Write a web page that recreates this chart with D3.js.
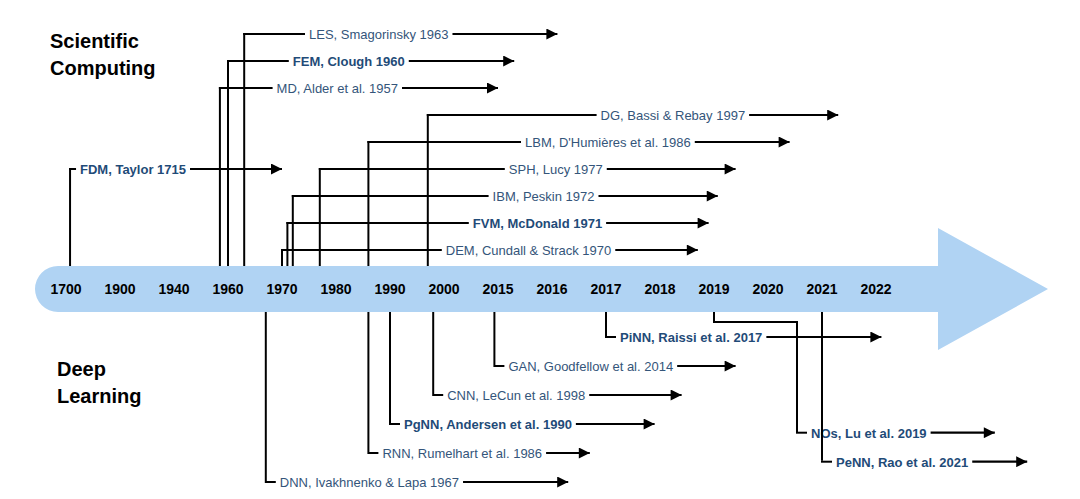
<!DOCTYPE html>
<html><head><meta charset="utf-8">
<script src="https://cdn.jsdelivr.net/npm/d3@7"></script>
<style>body{margin:0;background:#fff}text{font-family:"Liberation Sans",Arial,sans-serif}</style>
</head><body><div id="chart"></div>
<script>
var tickYears = [1700, 1900, 1940, 1960, 1970, 1980, 1990, 2000, 2015, 2016, 2017, 2018, 2019, 2020, 2021, 2022];
// upper events
var sciLabels = ["FDM, Taylor 1715", "MD, Alder et al. 1957", "FEM, Clough 1960", "LES, Smagorinsky 1963",
  "DEM, Cundall & Strack 1970", "FVM, McDonald 1971", "IBM, Peskin 1972", "SPH, Lucy 1977",
  "LBM, D'Humières et al. 1986", "DG, Bassi & Rebay 1997"];
var sciYears = [1715, 1957, 1960, 1963, 1970, 1971, 1972, 1977, 1986, 1997];
var sciBold = [true, false, true, false, false, true, false, false, false, false];
var sciRow = [4, 7, 8, 9, 1, 2, 3, 4, 5, 6];
var sciLabelAt = [1752, 1969, 1972, 1975, 2000.5, 2008, 2013.5, 2015.2, 2015.5, 2016.9];
var sciEnd = [1970, 2015, 2015.3, 2016.1, 2018.7, 2018.9, 2019.07, 2019.4, 2020.4, 2021.3];

var dlLabels = ["DNN, Ivakhnenko & Lapa 1967", "RNN, Rumelhart et al. 1986", "PgNN, Andersen et al. 1990",
  "CNN, LeCun et al. 1998", "GAN, Goodfellow et al. 2014", "PiNN, Raissi et al. 2017",
  "NOs, Lu et al. 2019", "PeNN, Rao et al. 2021"];
var dlYears = [1967, 1986, 1990, 1998, 2014, 2017, 2019, 2021];
var dlBold = [false, false, true, false, false, true, true, true];
var dlRow = [6, 5, 4, 3, 2, 1, 4.3, 5.3];
var dlEnd = [2016.3, 2016.7, 2017.9, 2018.4, 2019.4, 2022.1, 2024.2, 2024.8];

var W = 1080, H = 499;
var svg = d3.select("#chart").append("svg").attr("width", W).attr("height", H);
svg.append("defs").append("marker").attr("id", "ah").attr("viewBox", "0 0 10 10").attr("refX", 10).attr("refY", 5)
  .attr("markerWidth", 13).attr("markerHeight", 11).attr("markerUnits", "userSpaceOnUse")
  .attr("orient", "auto")
  .append("path").attr("d", "M0,0L10,5L0,10Z").attr("fill", "#000");

// year -> x, piecewise over the tick labels, extended past 2022
var idx = d3.scaleLinear().domain(tickYears.concat([2030])).range(d3.range(tickYears.length).concat([tickYears.length - 1 + 8]));
var pos = d3.scaleLinear().domain([0, tickYears.length - 1]).range([66, 876]);
var x = function(y) { return pos(idx(y)); };

var bandTop = 266, bandBot = 312, bandMid = 289;
var rowY = d3.scaleLinear().domain([1, 9]).range([250, 34]);
var rowYd = d3.scaleLinear().domain([1, 6]).range([337, 482]);

svg.append("path")
  .attr("d", `M58,${bandTop} L938,${bandTop} L938,228 L1048,${bandMid} L938,350 L938,${bandBot} L58,${bandBot} A23,23 0 0 1 58,${bandTop} Z`)
  .attr("fill", "#b0d3f3");

svg.append("g").selectAll("text").data(tickYears).enter().append("text")
  .attr("x", (d, i) => pos(i)).attr("y", bandMid + 5).attr("text-anchor", "middle")
  .attr("font-weight", "bold").attr("font-size", 14).text(d => d);

function header(lines, x0, y0) {
  lines.forEach((t, i) => svg.append("text").attr("x", x0).attr("y", y0 + i * 27)
    .attr("font-size", 20).attr("font-weight", "bold").text(t));
}
header(["Scientific", "Computing"], 50, 48);
header(["Deep", "Learning"], 57, 376);

function event(label, yr, bold, yy, endYr, up, labelX, elbow) {
  var x0 = x(yr);
  var g = svg.append("g");
  var lx = x0;
  if (elbow) {
    g.append("path").attr("d", `M${x0},${bandBot} V322 H${elbow} V${yy}`)
      .attr("fill", "none").attr("stroke", "#000").attr("stroke-width", 2);
    lx = elbow;
  } else {
    g.append("line").attr("x1", x0).attr("x2", x0).attr("y1", up ? bandTop : bandBot).attr("y2", yy - 1)
      .attr("stroke", "#000").attr("stroke-width", 2);
  }
  var tx = labelX != null ? labelX : lx + 14;
  g.append("line").attr("x1", lx - 1).attr("x2", tx - 4).attr("y1", yy).attr("y2", yy)
    .attr("stroke", "#000").attr("stroke-width", 2);
  var t = g.append("text").attr("x", tx).attr("y", yy + 5).attr("font-size", 13)
    .attr("font-weight", bold ? "bold" : "normal").attr("fill", bold ? "#1f4b78" : "#34557a").text(label);
  var tw = t.node().getComputedTextLength();
  g.append("line").attr("x1", tx + tw + 4).attr("x2", x(endYr)).attr("y1", yy).attr("y2", yy)
    .attr("stroke", "#000").attr("stroke-width", 2.2).attr("marker-end", "url(#ah)");
}
sciLabels.forEach((l, i) => event(l, sciYears[i], sciBold[i], rowY(sciRow[i]), sciEnd[i], true, x(sciLabelAt[i])));
dlLabels.forEach((l, i) => event(l, dlYears[i], dlBold[i], rowYd(dlRow[i]), dlEnd[i], false, null, i == 6 ? 797 : null));
</script></body></html>
